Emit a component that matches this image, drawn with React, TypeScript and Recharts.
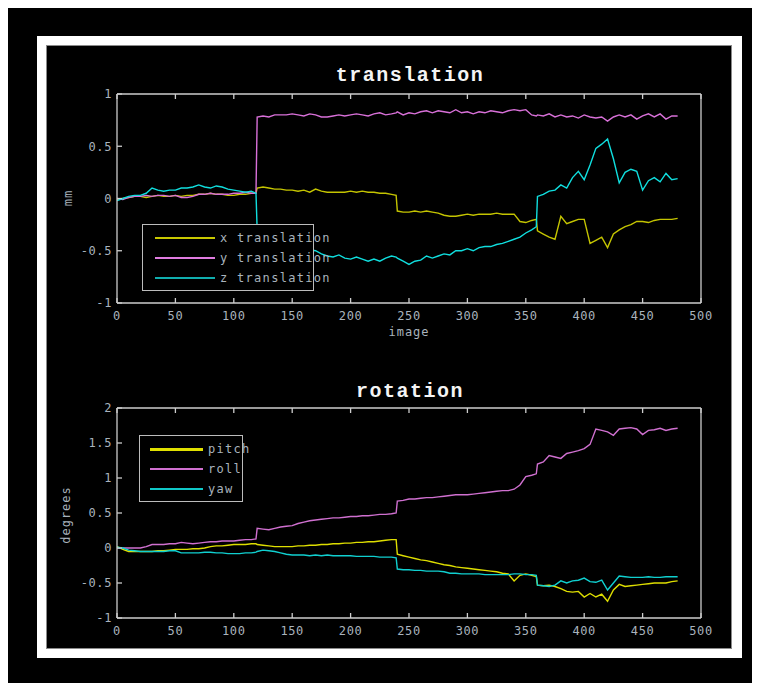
import { LineChart, Line, XAxis, YAxis, Legend } from 'recharts';

// image index for every sample (extra points at the step jumps)
const frames = [
  0, 5, 10, 15, 20, 25, 30, 35, 40, 45,
  50, 55, 60, 65, 70, 75, 80, 85, 90, 95,
  100, 105, 110, 115, 119, 120, 125, 130, 135, 140,
  145, 150, 155, 160, 165, 170, 175, 180, 185, 190,
  195, 200, 205, 210, 215, 220, 225, 230, 235, 239,
  240, 245, 250, 255, 260, 265, 270, 275, 280, 285,
  290, 295, 300, 305, 310, 315, 320, 325, 330, 335,
  340, 345, 350, 355, 359, 360, 365, 370, 375, 380,
  385, 390, 395, 400, 405, 410, 415, 420, 425, 430,
  435, 440, 445, 450, 455, 460, 465, 470, 475, 480,
];

// translation, mm
const xTranslation = [
  -0.01, 0.0, 0.01, 0.02, 0.02, 0.01, 0.02, 0.03, 0.02, 0.02,
  0.03, 0.02, 0.03, 0.03, 0.04, 0.04, 0.05, 0.04, 0.04, 0.03,
  0.03, 0.04, 0.04, 0.05, 0.05, 0.1, 0.11, 0.1, 0.09, 0.09,
  0.08, 0.08, 0.07, 0.08, 0.06, 0.09, 0.07, 0.06, 0.06, 0.06,
  0.06, 0.07, 0.06, 0.07, 0.06, 0.06, 0.05, 0.05, 0.04, 0.03,
  -0.12, -0.13, -0.13, -0.12, -0.13, -0.12, -0.13, -0.14, -0.16, -0.17,
  -0.17, -0.16, -0.15, -0.16, -0.15, -0.15, -0.15, -0.14, -0.15, -0.15,
  -0.15, -0.22, -0.23, -0.21, -0.2, -0.31, -0.34, -0.37, -0.39, -0.17,
  -0.24, -0.22, -0.2, -0.2, -0.43, -0.4, -0.37, -0.47, -0.34, -0.3,
  -0.27, -0.25, -0.22, -0.22, -0.23, -0.21, -0.2, -0.2, -0.2, -0.19,
];
const yTranslation = [
  0.0, -0.01, 0.01, 0.02, 0.02, 0.03, 0.02, 0.03, 0.03, 0.02,
  0.03, 0.01, 0.01, 0.02, 0.04, 0.04, 0.05, 0.04, 0.04, 0.04,
  0.05, 0.05, 0.06, 0.05, 0.05, 0.78, 0.79, 0.78, 0.8, 0.8,
  0.8, 0.81, 0.8, 0.79, 0.81, 0.8, 0.78, 0.78, 0.79, 0.8,
  0.79, 0.8, 0.81, 0.8, 0.79, 0.81, 0.82, 0.8, 0.81, 0.82,
  0.83, 0.8, 0.82, 0.81, 0.83, 0.84, 0.82, 0.84, 0.83, 0.82,
  0.85, 0.82, 0.83, 0.81, 0.83, 0.82, 0.84, 0.83, 0.82, 0.84,
  0.85, 0.84, 0.85, 0.8, 0.79, 0.8, 0.79, 0.81, 0.78, 0.8,
  0.78, 0.79, 0.77, 0.8, 0.78, 0.77, 0.78, 0.74, 0.78, 0.8,
  0.78, 0.8, 0.76, 0.79, 0.81, 0.78, 0.81, 0.76, 0.79, 0.79,
];
const zTranslation = [
  -0.02, 0.0, 0.02, 0.03, 0.03, 0.05, 0.1, 0.08, 0.07, 0.08,
  0.08, 0.1, 0.1, 0.11, 0.13, 0.11, 0.1, 0.12, 0.11, 0.09,
  0.08, 0.07, 0.06, 0.07, 0.05, -0.3, -0.4, -0.45, -0.48, -0.5,
  -0.5, -0.5, -0.49, -0.5, -0.49, -0.5, -0.53, -0.55, -0.56, -0.54,
  -0.57, -0.58, -0.56, -0.58, -0.6, -0.58, -0.6, -0.57, -0.55, -0.56,
  -0.57, -0.6, -0.63, -0.6, -0.59, -0.55, -0.57, -0.55, -0.53, -0.54,
  -0.5, -0.5, -0.48, -0.5, -0.47, -0.46, -0.46, -0.44, -0.43, -0.41,
  -0.39, -0.37, -0.33, -0.3, -0.27, 0.02, 0.04, 0.07, 0.08, 0.13,
  0.1, 0.2, 0.26, 0.18, 0.32, 0.48, 0.52, 0.57, 0.38, 0.15,
  0.25, 0.28, 0.26, 0.08, 0.17, 0.2, 0.16, 0.24, 0.18, 0.19,
];

// rotation, degrees
const pitch = [
  0.02, -0.02, -0.05, -0.05, -0.05, -0.05, -0.05, -0.04, -0.04, -0.03,
  -0.02, -0.02, -0.02, -0.01, -0.01, 0.0, 0.02, 0.03, 0.03, 0.04,
  0.05, 0.05, 0.05, 0.06, 0.06, 0.05, 0.04, 0.03, 0.02, 0.02,
  0.02, 0.02, 0.03, 0.03, 0.04, 0.04, 0.05, 0.05, 0.06, 0.06,
  0.07, 0.07, 0.08, 0.08, 0.09, 0.09, 0.1, 0.11, 0.12, 0.12,
  -0.09, -0.11, -0.13, -0.15, -0.17, -0.18, -0.2, -0.22, -0.24, -0.25,
  -0.27, -0.28, -0.29, -0.3, -0.31, -0.32, -0.33, -0.34, -0.36, -0.37,
  -0.47, -0.39, -0.37, -0.39, -0.41, -0.53, -0.54, -0.53, -0.55, -0.58,
  -0.62, -0.63, -0.62, -0.7, -0.65, -0.7, -0.66, -0.76, -0.6, -0.52,
  -0.55, -0.54, -0.53, -0.52, -0.51, -0.5, -0.5, -0.5, -0.48, -0.47,
];
const roll = [
  0.0, 0.0, 0.0, 0.0, 0.0, 0.02, 0.05, 0.05, 0.05, 0.06,
  0.06, 0.08, 0.07, 0.06, 0.07, 0.08, 0.09, 0.09, 0.1, 0.1,
  0.1, 0.11, 0.12, 0.12, 0.13, 0.28, 0.27, 0.26, 0.28, 0.3,
  0.31, 0.32, 0.35, 0.37, 0.39, 0.4, 0.41, 0.42, 0.43, 0.43,
  0.44, 0.45, 0.45, 0.46, 0.46, 0.47, 0.48, 0.48, 0.49, 0.5,
  0.67, 0.68, 0.7, 0.7, 0.71, 0.72, 0.72, 0.73, 0.74, 0.75,
  0.76, 0.76, 0.76, 0.77, 0.78, 0.79, 0.8, 0.81, 0.82, 0.82,
  0.84, 0.9, 1.02, 1.04, 1.06, 1.2, 1.23, 1.32, 1.3, 1.28,
  1.35, 1.37, 1.39, 1.42, 1.48, 1.7, 1.68, 1.66, 1.61, 1.7,
  1.71, 1.72, 1.7, 1.62, 1.68, 1.69, 1.71, 1.68, 1.7, 1.71,
];
const yaw = [
  0.01, 0.0, -0.03, -0.04, -0.05, -0.05, -0.05, -0.05, -0.05, -0.04,
  -0.04, -0.07, -0.07, -0.07, -0.07, -0.06, -0.06, -0.07, -0.07, -0.08,
  -0.08, -0.08, -0.07, -0.07, -0.06, -0.05, -0.03, -0.04, -0.05, -0.07,
  -0.09, -0.1, -0.1, -0.1, -0.11, -0.1, -0.11, -0.1, -0.11, -0.11,
  -0.11, -0.11, -0.12, -0.12, -0.12, -0.12, -0.13, -0.13, -0.13, -0.14,
  -0.3, -0.31, -0.31, -0.32, -0.32, -0.33, -0.33, -0.33, -0.34, -0.36,
  -0.36, -0.37, -0.37, -0.37, -0.37, -0.38, -0.38, -0.38, -0.38, -0.38,
  -0.37, -0.37, -0.38, -0.38, -0.39, -0.53, -0.54, -0.55, -0.53, -0.47,
  -0.5, -0.47, -0.46, -0.43, -0.48, -0.49, -0.46, -0.6, -0.5, -0.4,
  -0.41, -0.42, -0.42, -0.42, -0.41, -0.42, -0.42, -0.41, -0.41, -0.41,
];

const xTicks = [0, 50, 100, 150, 200, 250, 300, 350, 400, 450, 500];
const translationTicks = [-1, -0.5, 0, 0.5, 1];
const rotationTicks = [-1, -0.5, 0, 0.5, 1, 1.5, 2];

const translationData = frames.map((f, i) => ({
  frame: f,
  x: xTranslation[i],
  y: yTranslation[i],
  z: zTranslation[i],
}));
const rotationData = frames.map((f, i) => ({
  frame: f,
  pitch: pitch[i],
  roll: roll[i],
  yaw: yaw[i],
}));

type Series = { key: string; name: string; color: string; legend: string; legendWidth: number };

const translationSeries: Series[] = [
  { key: 'x', name: 'x translation', color: '#c4c400', legend: '#c8c800', legendWidth: 2 },
  { key: 'y', name: 'y translation', color: '#d870d8', legend: '#e07ce0', legendWidth: 2 },
  { key: 'z', name: 'z translation', color: '#10dede', legend: '#10aeae', legendWidth: 2 },
];
const rotationSeries: Series[] = [
  { key: 'pitch', name: 'pitch', color: '#dede00', legend: '#e0e000', legendWidth: 3 },
  { key: 'roll', name: 'roll', color: '#d070d0', legend: '#d070d0', legendWidth: 2 },
  { key: 'yaw', name: 'yaw', color: '#10d0d0', legend: '#10c8c8', legendWidth: 2 },
];

const axisColor = '#cdcdcd';
const labelColor = '#a9b3bd';
const mono = '"DejaVu Sans Mono", "Liberation Mono", monospace';
const tickStyle = { fill: labelColor, fontSize: 12, fontFamily: mono, letterSpacing: 0.6 };

function LegendBox({ items, width, lineLeft, lineLen }: { items: Series[]; width: number; lineLeft: number; lineLen: number }) {
  return (
    <div
      style={{
        width,
        background: '#000',
        border: '1.5px solid #bcbcbc',
        padding: '3px 0 2px 0',
        boxSizing: 'border-box',
      }}
    >
      {items.map((s) => (
        <div key={s.key} style={{ display: 'flex', alignItems: 'center', height: 20, whiteSpace: 'nowrap' }}>
          <div
            style={{
              marginLeft: lineLeft,
              width: lineLen,
              flex: 'none',
              height: s.legendWidth,
              background: s.legend,
              marginRight: 5,
            }}
          />
          <span
            style={{
              color: labelColor,
              fontFamily: mono,
              fontSize: 12,
              letterSpacing: 1.3,
              lineHeight: '20px',
              whiteSpace: 'nowrap',
            }}
          >
            {s.name}
          </span>
        </div>
      ))}
    </div>
  );
}

function Panel({
  top,
  marginTop,
  marginBottom,
  data,
  series,
  yDomain,
  yTicks,
  legend,
}: {
  top: number;
  marginTop: number;
  marginBottom: number;
  data: any[];
  series: Series[];
  yDomain: [number, number];
  yTicks: number[];
  legend: { left: number; top: number; width: number; lineLeft: number; lineLen: number };
}) {
  return (
    <div style={{ position: 'absolute', left: 47, top }}>
      <LineChart width={685} height={300} data={data} margin={{ top: marginTop, right: 30, bottom: marginBottom, left: 30 }}>
        <XAxis
          dataKey="frame"
          type="number"
          domain={[0, 500]}
          ticks={xTicks}
          height={30}
          tickSize={-5}
          tickMargin={13}
          interval={0}
          stroke={axisColor}
          strokeWidth={1.3}
          tick={tickStyle}
        />
        <XAxis
          xAxisId="top"
          orientation="top"
          dataKey="frame"
          type="number"
          domain={[0, 500]}
          ticks={xTicks}
          height={1}
          tickSize={-5}
          interval={0}
          stroke={axisColor}
          strokeWidth={1.3}
          tickFormatter={() => ''}
        />
        <YAxis
          type="number"
          domain={yDomain}
          ticks={yTicks}
          width={40}
          tickSize={-5}
          tickMargin={10}
          interval={0}
          stroke={axisColor}
          strokeWidth={1.3}
          tick={tickStyle}
        />
        <YAxis
          yAxisId="right"
          orientation="right"
          type="number"
          domain={yDomain}
          ticks={yTicks}
          width={1}
          tickSize={-5}
          interval={0}
          stroke={axisColor}
          strokeWidth={1.3}
          tickFormatter={() => ''}
        />
        {series.map((s) => (
          <Line
            key={s.key}
            type="linear"
            dataKey={s.key}
            name={s.name}
            stroke={s.color}
            strokeWidth={1.4}
            dot={false}
            isAnimationActive={false}
          />
        ))}
        <Legend
          layout="vertical"
          align="center"
          verticalAlign="middle"
          wrapperStyle={{ left: legend.left, top: legend.top, width: legend.width }}
          content={() => (
            <LegendBox items={series} width={legend.width} lineLeft={legend.lineLeft} lineLen={legend.lineLen} />
          )}
        />
      </LineChart>
    </div>
  );
}

const titleStyle = {
  position: 'absolute' as const,
  left: 310,
  width: 200,
  textAlign: 'center' as const,
  color: '#f4f4f4',
  fontFamily: '"Liberation Mono", "DejaVu Sans Mono", monospace',
  fontWeight: 'bold' as const,
  fontSize: 20,
  letterSpacing: 1.5,
  lineHeight: '24px',
};
const axisLabelStyle = {
  position: 'absolute' as const,
  color: labelColor,
  fontFamily: mono,
  fontSize: 12,
  letterSpacing: 1,
  lineHeight: '14px',
  textAlign: 'center' as const,
  width: 100,
};

export default function App() {
  return (
    <div style={{ position: 'absolute', left: 0, top: 0, width: 759, height: 683, background: '#fff' }}>
      <div style={{ position: 'absolute', left: 8, top: 8, width: 744, height: 675, background: '#000' }} />
      <div style={{ position: 'absolute', left: 37, top: 36, width: 705, height: 622, background: '#fff' }} />
      <div
        style={{
          position: 'absolute',
          left: 46,
          top: 45,
          width: 686,
          height: 604,
          background: '#000',
          border: '1px solid #8a8a8a',
          boxSizing: 'border-box',
        }}
      />

      <div style={{ ...titleStyle, top: 64 }}>translation</div>
      <div style={{ ...titleStyle, top: 380 }}>rotation</div>

      <Panel
        top={45}
        marginTop={48}
        marginBottom={12}
        data={translationData}
        series={translationSeries}
        yDomain={[-1, 1]}
        yTicks={translationTicks}
        legend={{ left: 95, top: 179, width: 172, lineLeft: 12, lineLen: 60 }}
      />
      <Panel
        top={350}
        marginTop={57}
        marginBottom={2}
        data={rotationData}
        series={rotationSeries}
        yDomain={[-1, 2]}
        yTicks={rotationTicks}
        legend={{ left: 92, top: 85, width: 104, lineLeft: 10, lineLen: 53 }}
      />

      <div style={{ ...axisLabelStyle, left: 359, top: 325 }}>image</div>
      <div style={{ ...axisLabelStyle, left: 18, top: 191, transform: 'rotate(-90deg)' }}>mm</div>
      <div style={{ ...axisLabelStyle, left: 16, top: 508, transform: 'rotate(-90deg)' }}>degrees</div>
    </div>
  );
}
